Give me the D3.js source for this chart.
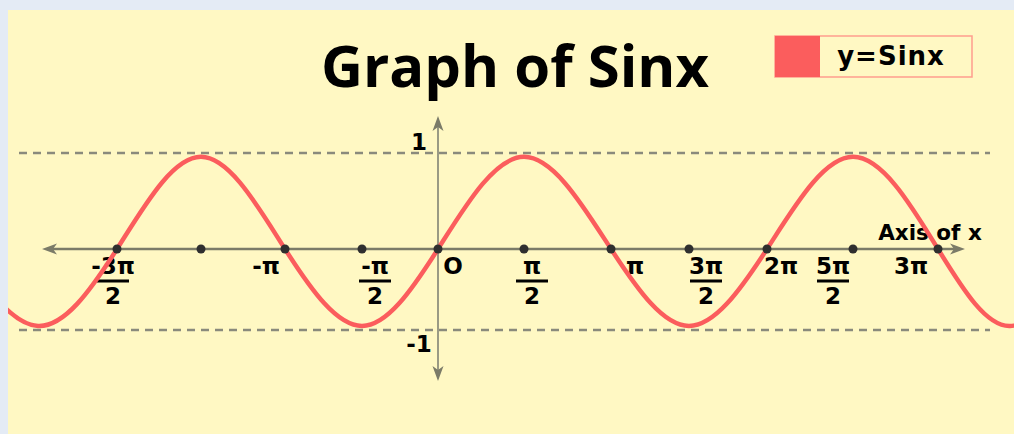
<!DOCTYPE html>
<html lang="en">
<head>
<meta charset="UTF-8">
<title>Graph of Sinx</title>
<script src="https://cdnjs.cloudflare.com/ajax/libs/d3/7.8.5/d3.min.js"></script>
<style>
    html, body { margin: 0; padding: 0; background: #e4ebf5; }
    svg { display: block; }
    text { font-family: "DejaVu Sans", sans-serif; font-weight: 700; fill: #000; }
    .title { font-family: "Open Sans", "DejaVu Sans", sans-serif; }
</style>
</head>
<body>
<svg width="1014" height="434"></svg>
<script>
    // x values are in units of pi/2
    const tickValues = [-3, -2, -1, 0, 1, 2, 3, 4, 5, 6];
    const tickNumerators = ["-3π", "-π", "-π", "O", "π", "π", "3π", "2π", "5π", "3π"];
    const tickDenominators = ["2", "", "2", "", "2", "", "2", "", "2", ""];
    const dotValues = [-3, -2.5, -2, -1, 0, 1, 2, 3, 4, 5, 6];

    // points (x in pi/2 units, y)
    const curveX = [-3.94, -3.47, -3, -2.5, -2, -1, 0, 1, 2, 3, 4, 5, 6, 6.85, 7.69];
    const curveY = [0, -0.95, 0, 0.96, 0, -0.95, 0, 0.96, 0, -0.95, 0, 0.96, 0, -0.95, 0];

    const yGuides = [1, -1];
    const yLabels = ["1", "-1"];

    // layout
    const labelDx = [-4, -19, 13, 15, 8, 24, 17, 14, -20, -27];
    const red = "#fb5d5d";
    const axisColor = "#7b7b68";

    const svg = d3.select("svg");

    const x = d3.scaleLinear()
        .domain(tickValues)
        .range([117, 285, 362, 438, 524, 611, 689, 767, 853, 938]);
    const y = d3.scaleLinear()
        .domain([-1, 0, 1])
        .range([330, 249, 153]);

    // panel
    svg.append("rect")
        .attr("x", 8).attr("y", 10)
        .attr("width", 1006).attr("height", 424)
        .attr("fill", "#fff8c3");

    svg.append("clipPath").attr("id", "panel")
        .append("rect")
        .attr("x", 8).attr("y", 10)
        .attr("width", 1006).attr("height", 424);

    // dashed guides at +1 / -1
    svg.selectAll(".guide")
        .data(yGuides)
        .enter()
        .append("line")
        .attr("class", "guide")
        .attr("x1", 19).attr("x2", 990)
        .attr("y1", d => y(d)).attr("y2", d => y(d))
        .attr("stroke", "#8a8a7c")
        .attr("stroke-width", 2.5)
        .attr("stroke-dasharray", "8,6");

    // axes
    const x0 = x(0), y0 = y(0);
    const xLeft = 42, xRight = 965, yTop = 116, yBottom = 381;

    svg.append("line")
        .attr("x1", xLeft + 8).attr("x2", xRight - 8)
        .attr("y1", y0).attr("y2", y0)
        .attr("stroke", axisColor).attr("stroke-width", 2.5);
    svg.append("line")
        .attr("x1", x0).attr("x2", x0)
        .attr("y1", yTop + 8).attr("y2", yBottom - 8)
        .attr("stroke", "#9a9a84").attr("stroke-width", 2);

    const arrow = (tx, ty, angle) => {
        svg.append("path")
            .attr("d", "M0,0 L-15,-5.5 L-11,0 L-15,5.5 Z")
            .attr("transform", `translate(${tx},${ty}) rotate(${angle})`)
            .attr("fill", axisColor);
    };
    arrow(xRight, y0, 0);
    arrow(xLeft, y0, 180);
    arrow(x0, yTop, -90);
    arrow(x0, yBottom, 90);

    // y labels
    svg.selectAll(".ylab")
        .data(yGuides)
        .enter()
        .append("text")
        .attr("class", "ylab")
        .attr("x", 419)
        .attr("y", d => d > 0 ? y(d) - 3 : y(d) + 22)
        .attr("text-anchor", "middle")
        .attr("font-size", 23)
        .text((d, i) => yLabels[i]);

    // x tick labels
    const labels = svg.selectAll(".xlab")
        .data(tickValues)
        .enter()
        .append("g")
        .attr("class", "xlab")
        .attr("transform", (d, i) => `translate(${x(d) + labelDx[i]},0)`);

    labels.append("text")
        .attr("y", 274)
        .attr("text-anchor", "middle")
        .attr("font-size", 23)
        .text((d, i) => tickNumerators[i]);

    labels.filter((d, i) => tickDenominators[i] !== "")
        .append("line")
        .attr("x1", -16).attr("x2", 16)
        .attr("y1", 281).attr("y2", 281)
        .attr("stroke", "#000").attr("stroke-width", 3);

    labels.append("text")
        .attr("y", 304)
        .attr("text-anchor", "middle")
        .attr("font-size", 23)
        .text((d, i) => tickDenominators[i]);

    svg.append("text")
        .attr("x", 930).attr("y", 240)
        .attr("text-anchor", "middle")
        .attr("font-size", 21.5)
        .text("Axis of x");

    // curve
    const line = d3.line()
        .x(d => x(d[0]))
        .y(d => y(d[1]))
        .curve(d3.curveNatural);

    svg.append("path")
        .datum(d3.zip(curveX, curveY))
        .attr("clip-path", "url(#panel)")
        .attr("d", line)
        .attr("fill", "none")
        .attr("stroke", red)
        .attr("stroke-width", 4.5);

    // dots
    svg.selectAll(".dot")
        .data(dotValues)
        .enter()
        .append("circle")
        .attr("class", "dot")
        .attr("cx", d => x(d))
        .attr("cy", y0)
        .attr("r", 4.5)
        .attr("fill", "#2f2f2f");

    // title
    svg.append("text")
        .attr("class", "title")
        .attr("x", 515).attr("y", 87)
        .attr("text-anchor", "middle")
        .attr("font-size", 58)
        .text("Graph of Sinx");

    // legend
    const legend = svg.append("g").attr("transform", "translate(775,36)");
    legend.append("rect")
        .attr("width", 197).attr("height", 41)
        .attr("fill", "none")
        .attr("stroke", "#ff9d8e").attr("stroke-width", 1.5);
    legend.append("rect")
        .attr("width", 45).attr("height", 41)
        .attr("fill", red);
    legend.append("text")
        .attr("x", 116).attr("y", 29)
        .attr("text-anchor", "middle")
        .attr("font-size", 26)
        .attr("letter-spacing", 1)
        .text("y=Sinx");
</script>
</body>
</html>
